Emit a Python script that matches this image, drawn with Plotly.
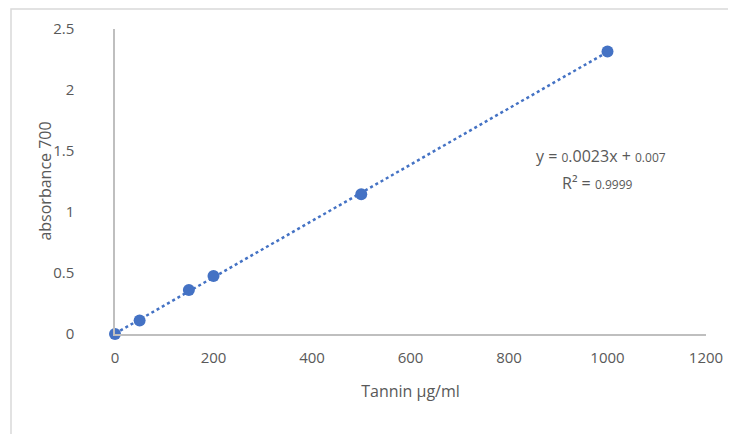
import numpy as np
import plotly.graph_objects as go

conc = [0, 50, 150, 200, 500, 1000]
absorbance = [0.0, 0.11, 0.36, 0.475, 1.145, 2.315]
x_ticks = [0, 200, 400, 600, 800, 1000, 1200]
y_ticks = [0, 0.5, 1, 1.5, 2, 2.5]

slope, intercept = np.polyfit(conc, absorbance, 1)
fit_x = [min(conc), max(conc)]
fit_y = [slope * v + intercept for v in fit_x]

blue = "#4472C4"
gray = "#595959"
font = "Open Sans"

fig = go.Figure()
fig.add_trace(go.Scatter(x=fit_x, y=fit_y, mode="lines",
                         line=dict(color=blue, width=2.5, dash="dot"),
                         showlegend=False, hoverinfo="skip", cliponaxis=False))
fig.add_trace(go.Scatter(x=conc, y=absorbance, mode="markers",
                         marker=dict(color=blue, size=12),
                         showlegend=False, cliponaxis=False))

fig.update_layout(
    width=736, height=434,
    margin=dict(l=107, r=38, t=21, b=108, autoexpand=False),
    paper_bgcolor="white", plot_bgcolor="white",
    font=dict(family=font, color=gray, size=15),
    xaxis=dict(range=[0, 1200], tickvals=x_ticks, showgrid=False, automargin=False,
               zeroline=False, showline=True, linecolor="#BFBFBF", linewidth=1.5,
               ticks="", ticklabelstandoff=9, tickfont=dict(size=15, color=gray),
               title=dict(text="Tannin µg/ml", font=dict(size=16, color=gray), standoff=20)),
    yaxis=dict(range=[0, 2.5], tickvals=y_ticks, showgrid=False, automargin=False,
               zeroline=False, showline=True, linecolor="#BFBFBF", linewidth=1.5,
               ticks="", ticklabelstandoff=36, tickfont=dict(size=15, color=gray)),
    shapes=[dict(type="rect", xref="paper", yref="paper",
                 x0=-104/591, x1=1.2, y0=-0.5, y1=(305+20)/305,
                 line=dict(color="#D9D9D9", width=1.5), layer="below")],
)

fig.add_annotation(x=-0.12, y=0.5, xref="paper", yref="paper", showarrow=False,
                   xanchor="center", yanchor="middle",
                   text="absorbance 700", textangle=-90,
                   font=dict(size=16, color=gray, family=font))
fig.add_annotation(x=986, y=1.46, xref="x", yref="y", showarrow=False,
                   text="y = <span style='font-size:12px'>0</span>.0023x + <span style='font-size:12px'>0.007</span>",
                   font=dict(size=16, color=gray, family=font))
fig.add_annotation(x=980, y=1.24, xref="x", yref="y", showarrow=False,
                   text="R² = <span style='font-size:12px'>0.9999</span>",
                   font=dict(size=16, color=gray, family=font))

fig.write_html("out.html")
